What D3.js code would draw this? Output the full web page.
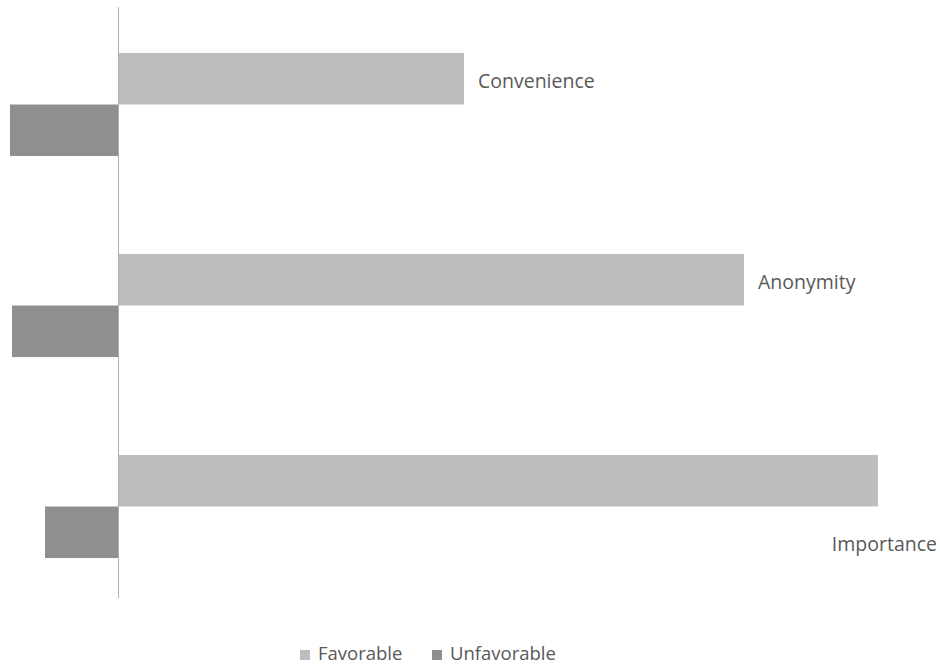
<!DOCTYPE html>
<html><head><meta charset="utf-8">
<script src="https://cdn.jsdelivr.net/npm/d3@7"></script>
<style>body{margin:0;background:#fff;} svg{display:block;}</style>
</head><body>
<svg id="c" width="940" height="667"></svg>
<script>
const categories = ["Convenience", "Anonymity", "Importance"];
const seriesNames = ["Favorable", "Unfavorable"];
const favorable = [34.6, 62.6, 76.0];
const unfavorable = [-10.8, -10.6, -7.3];
const colors = ["#bdbdbd", "#8f8f8f"];

const svg = d3.select("#c");
const font = "'Open Sans', 'Noto Sans', sans-serif";

const x = d3.scaleLinear().domain([-11.8, 82.2]).range([0, 940]);
const y = d3.scaleBand().domain(categories).range([4, 607]).paddingInner(0.487).paddingOuter(0.2435);
const ys = d3.scaleBand().domain(seriesNames).range([0, y.bandwidth()]);

const rows = categories.map((c, i) => ({cat: c, vals: [favorable[i], unfavorable[i]]}));

const g = svg.append("g");
rows.forEach(r => {
  r.vals.forEach((v, j) => {
    g.append("rect")
      .attr("x", x(Math.min(0, v)))
      .attr("y", y(r.cat) + ys(seriesNames[j]))
      .attr("width", Math.abs(x(v) - x(0)))
      .attr("height", ys.bandwidth())
      .attr("fill", colors[j]);
  });
});

// axis line
svg.append("line")
  .attr("x1", x(0) + 0.5).attr("x2", x(0) + 0.5)
  .attr("y1", 7).attr("y2", 598)
  .attr("stroke", "#b0b0b0").attr("stroke-width", 1);

// category labels
const labelStyle = s => s.attr("font-family", font).attr("font-size", 19.5).attr("fill", "#595959");
rows.forEach((r, i) => {
  const t = svg.append("text").text(r.cat).call(labelStyle).attr("dominant-baseline", "central");
  if (i < 2) {
    t.attr("x", x(r.vals[0]) + 14).attr("y", y(r.cat) + ys.bandwidth() / 2 + 2);
  } else {
    t.attr("x", 937).attr("text-anchor", "end").attr("y", y(r.cat) + y.bandwidth() * 0.855);
  }
});

// legend
const lg = svg.append("g");
const legendX = [300, 432];
seriesNames.forEach((s, j) => {
  lg.append("rect").attr("x", legendX[j]).attr("y", 650).attr("width", 10).attr("height", 10).attr("fill", colors[j]);
  lg.append("text").attr("x", legendX[j] + 18).attr("y", 660).text(s)
    .attr("font-family", font).attr("font-size", 18.5).attr("fill", "#595959");
});
</script>
</body></html>
